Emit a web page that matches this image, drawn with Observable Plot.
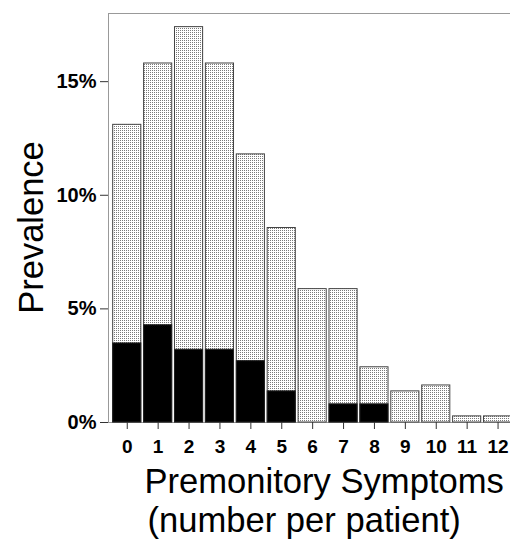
<!DOCTYPE html>
<html>
<head>
<meta charset="utf-8">
<script src="https://cdn.jsdelivr.net/npm/d3@7"></script>
<script src="https://cdn.jsdelivr.net/npm/@observablehq/plot@0.6"></script>
<style>
  html, body { margin: 0; padding: 0; background: white; }
  svg { font-family: "Liberation Sans", Arial, sans-serif; }
</style>
</head>
<body>
<div id="chart"></div>
<script>
// Number of premonitory symptoms per patient
const categories = ["0", "1", "2", "3", "4", "5", "6", "7", "8", "9", "10", "11", "12"];
// Total prevalence (%) – dotted bars
const totalPct = [13.1, 15.8, 17.4, 15.8, 11.8, 8.56, 5.87, 5.87, 2.43, 1.37, 1.63, 0.27, 0.27];
// Sub-group prevalence (%) – black bars
const blackPct = [3.48, 4.28, 3.2, 3.2, 2.7, 1.37, 0, 0.8, 0.8, 0, 0, 0, 0];
const yTicks = [0, 5, 10, 15];

const totals = categories.map((c, i) => ({cat: c, value: totalPct[i]}));
const blacks = categories.map((c, i) => ({cat: c, value: blackPct[i]})).filter(d => d.value > 0);

const chart = Plot.plot({
  width: 510,
  height: 541,
  marginLeft: 108,
  marginRight: -2,
  marginTop: 13,
  marginBottom: 119,
  style: {fontFamily: "'Liberation Sans', Arial, sans-serif", background: "white"},
  x: {domain: categories, range: [111.3, 513], round: false, paddingInner: 0.09, paddingOuter: 0.045, label: null},
  y: {domain: [0, 18], label: null},
  marks: [
    Plot.frame({stroke: "#999"}),
    Plot.barY(totals, {x: "cat", y: "value", fill: "url(#dots)", stroke: "#444", strokeWidth: 1}),
    Plot.barY(blacks, {x: "cat", y: "value", fill: "black", stroke: "#222", strokeWidth: 1}),
    Plot.axisY({ticks: yTicks, tickFormat: d => d + "%", tickSize: 8, tickPadding: 4,
      fontSize: 20, fontWeight: "bold", label: null, stroke: "#333"}),
    Plot.axisX({tickSize: 7, tickPadding: 10, fontSize: 19, fontWeight: "bold", label: null, stroke: "#333"}),
    Plot.text(["Prevalence"], {frameAnchor: "left", rotate: -90, textAnchor: "middle", lineAnchor: "bottom",
      dx: -66, dy: 9.5, fontSize: 34.5, fill: "black"}),
    Plot.text(["Premonitory Symptoms"], {frameAnchor: "bottom-left", textAnchor: "start", lineAnchor: "bottom",
      dx: 36, dy: 70, fontSize: 34.6, fill: "black"}),
    Plot.text(["(number per patient)"], {frameAnchor: "bottom-left", textAnchor: "start", lineAnchor: "bottom",
      dx: 39, dy: 109, fontSize: 34.6, fill: "black"})
  ]
});

// Dotted fill pattern (grid of grey dots)
const defs = d3.select(chart).insert("defs", ":first-child");
const pat = defs.append("pattern").attr("id", "dots").attr("patternUnits", "userSpaceOnUse")
  .attr("width", 2).attr("height", 2);
pat.append("rect").attr("width", 2).attr("height", 2).attr("fill", "white");
pat.append("rect").attr("x", 0).attr("y", 0).attr("width", 1).attr("height", 1).attr("fill", "#7a7a7a");

document.getElementById("chart").appendChild(chart);
</script>
</body>
</html>
